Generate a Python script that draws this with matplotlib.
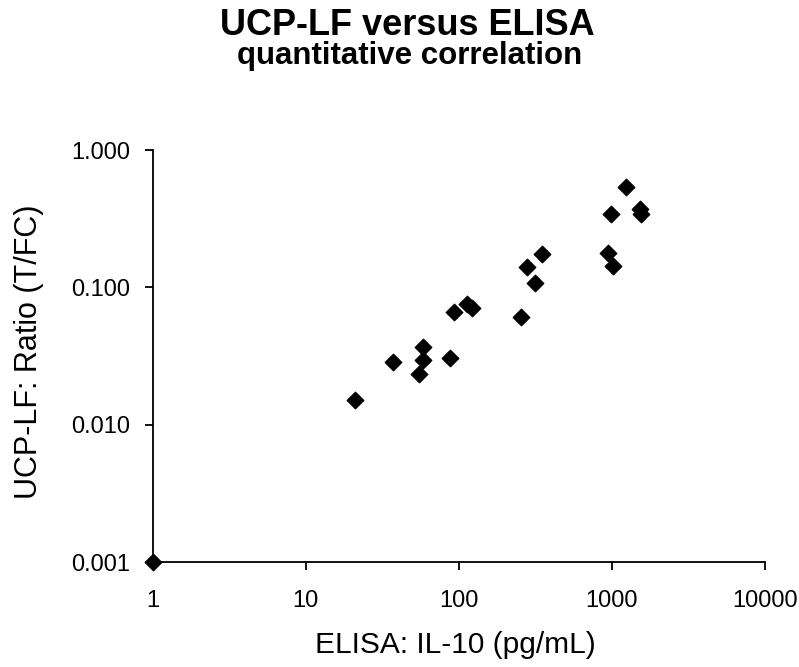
import matplotlib
matplotlib.use("Agg")
import matplotlib.pyplot as plt
from matplotlib.ticker import FixedLocator, FixedFormatter, NullLocator

plt.rcParams['font.family'] = ['Liberation Sans', 'DejaVu Sans']

elisa_il10 = [1, 21.0, 37.0, 58.6, 58.6, 55.1, 87.5, 93.3, 113.5, 121.2,
              254, 280, 314, 352, 944, 1018, 994, 1245, 1537, 1560]
ucp_ratio = [0.001, 0.0152, 0.0288, 0.0366, 0.0296, 0.0234, 0.0308, 0.0666, 0.0757, 0.0705,
             0.0606, 0.140, 0.107, 0.174, 0.177, 0.143, 0.342, 0.541, 0.370, 0.340]

x_ticks = [1, 10, 100, 1000, 10000]
x_labels = ["1", "10", "100", "1000", "10000"]
y_ticks = [0.001, 0.01, 0.1, 1.0]
y_labels = ["0.001", "0.010", "0.100", "1.000"]

fig = plt.figure(figsize=(7.99, 6.67), dpi=100)
ax = fig.add_axes([0.1909, 0.1574, 0.7665, 0.6176])

ax.scatter(elisa_il10, ucp_ratio, marker='D', s=70, color='black', zorder=3, clip_on=False)

ax.set_xscale('log')
ax.set_yscale('log')
ax.set_xlim(1, 10000)
ax.set_ylim(0.001, 1.0)
ax.xaxis.set_major_locator(FixedLocator(x_ticks))
ax.xaxis.set_major_formatter(FixedFormatter(x_labels))
ax.xaxis.set_minor_locator(NullLocator())
ax.yaxis.set_major_locator(FixedLocator(y_ticks))
ax.yaxis.set_major_formatter(FixedFormatter(y_labels))
ax.yaxis.set_minor_locator(NullLocator())

for s in ['top', 'right']:
    ax.spines[s].set_visible(False)
for s in ['left', 'bottom']:
    ax.spines[s].set_linewidth(1.3)
    ax.spines[s].set_color('black')

ax.tick_params(axis='both', direction='out', length=6, width=1.3, labelsize=17, colors='black')
ax.tick_params(axis='x', pad=14)
ax.tick_params(axis='y', pad=10)

ax.set_xlabel("ELISA: IL-10 (pg/mL)", fontsize=21.5, va='center')
ax.set_ylabel("UCP-LF: Ratio (T/FC)", fontsize=22, va='center')
ax.xaxis.set_label_coords(0.4953, -0.2015)
ax.yaxis.set_label_coords(-0.2016, 0.51)

fig.text(0.51, 1 - 35 / 667, "UCP-LF versus ELISA", ha='center', va='baseline', fontsize=26, fontweight='bold')
fig.text(0.513, 1 - 64 / 667, "quantitative correlation", ha='center', va='baseline', fontsize=22.5, fontweight='bold')

fig.savefig("out.png", dpi=100)
